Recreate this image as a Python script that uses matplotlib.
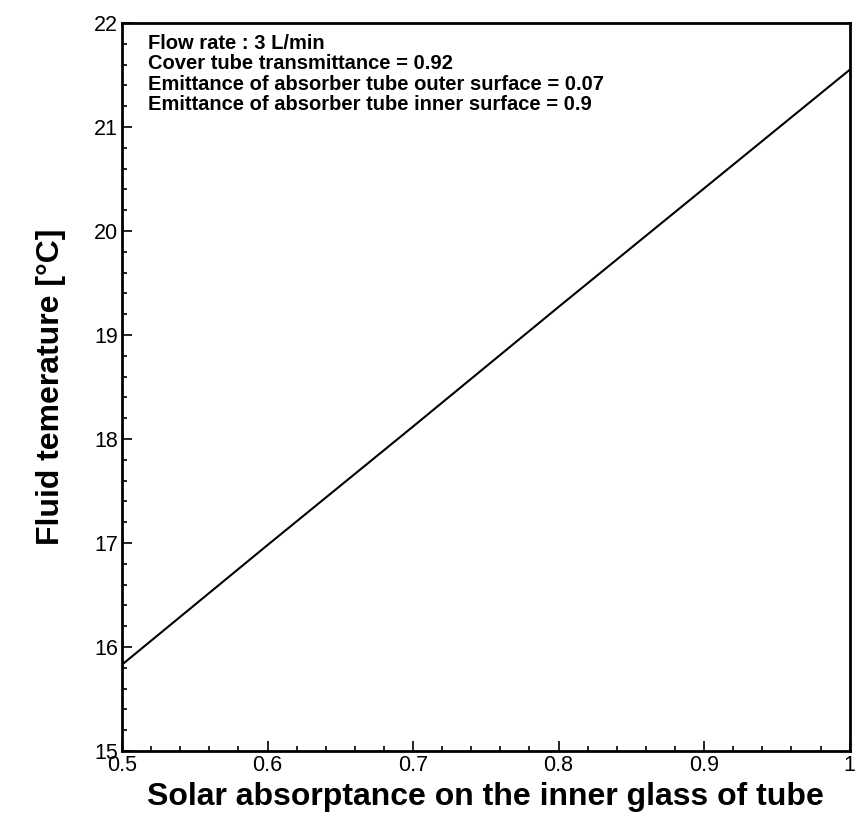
import matplotlib
matplotlib.use("Agg")
import matplotlib.pyplot as plt
import matplotlib.ticker as ticker

# values
absorptance = [0.5, 0.6, 0.7, 0.8, 0.9, 1.0]
fluid_temp = [15.83, 16.98, 18.12, 19.27, 20.41, 21.55]

info_lines = [
    "Flow rate : 3 L/min",
    "Cover tube transmittance = 0.92",
    "Emittance of absorber tube outer surface = 0.07",
    "Emittance of absorber tube inner surface = 0.9",
]

plt.rcParams['font.family'] = ['Liberation Sans', 'DejaVu Sans']

fig = plt.figure(figsize=(8.67, 8.31), dpi=100)
ax = fig.add_axes([0.1407, 0.0963, 0.8393, 0.876])

ax.plot(absorptance, fluid_temp, color="black", linewidth=1.5)

ax.set_xlim(0.5, 1.0)
ax.set_ylim(15, 22)
ax.xaxis.set_major_locator(ticker.MultipleLocator(0.1))
ax.xaxis.set_minor_locator(ticker.MultipleLocator(0.02))
ax.yaxis.set_major_locator(ticker.MultipleLocator(1))
ax.yaxis.set_minor_locator(ticker.MultipleLocator(0.2))
ax.xaxis.set_major_formatter(ticker.FuncFormatter(
    lambda v, pos: "1" if abs(v - 1) < 1e-9 else f"{v:.1f}"))

ax.tick_params(which='both', direction='in', top=False, right=False,
               labelsize=15.5, width=1.2)
ax.tick_params(which='major', length=7, pad=3)
ax.tick_params(which='minor', length=3.5)
for s in ax.spines.values():
    s.set_linewidth(2)

ax.set_xlabel("Solar absorptance on the inner glass of tube",
              fontsize=23, fontweight='bold', labelpad=4)
ax.set_ylabel("Fluid temerature [\u00b0C]",
              fontsize=23, fontweight='bold', labelpad=20)

ax.text(0.036, 0.985, "\n".join(info_lines), transform=ax.transAxes,
        fontsize=14.5, fontweight='bold', va='top', ha='left',
        linespacing=1.1)

fig.savefig("out.png", dpi=100)
